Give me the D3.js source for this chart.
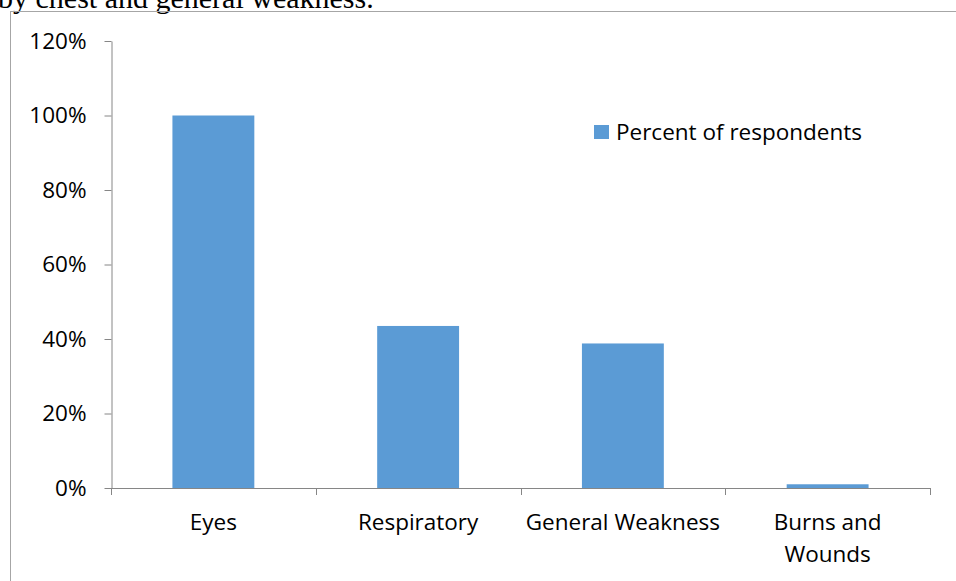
<!DOCTYPE html>
<html lang="en">
<head>
<meta charset="UTF-8">
<title>Percent of respondents</title>
<script src="https://cdn.jsdelivr.net/npm/d3@7"></script>
<style>
  body { margin: 0; background: #fff; }
  text { font-family: "Open Sans", "Liberation Sans", sans-serif; }
</style>
</head>
<body>
<div id="chart"></div>
<script>
// data
const categories = ["Eyes", "Respiratory", "General Weakness", "Burns and Wounds"];
const values = [1.00, 0.435, 0.388, 0.01];
const yTicks = [0, 0.2, 0.4, 0.6, 0.8, 1.0, 1.2];
const seriesName = "Percent of respondents";

let width = 956;
let height = 581;
let margin = { top: 41, right: 26, bottom: 93, left: 111 };

let svg = d3.select("#chart").append("svg")
    .attr("width", width)
    .attr("height", height);

// leftover caption from the document, cut off at the top
svg.append("text")
    .attr("x", -2)
    .attr("y", 8)
    .style("font-family", "'Liberation Serif', serif")
    .style("font-size", "30px")
    .text("by chest and general weakness.");

// chart frame
svg.append("rect")
    .attr("x", 10.5)
    .attr("y", 11.5)
    .attr("width", 960)
    .attr("height", 600)
    .attr("fill", "none")
    .attr("stroke", "#a6a6a6");

let x = d3.scaleBand()
    .domain(categories)
    .range([margin.left, width - margin.right])
    .paddingInner(0.6)
    .paddingOuter(0.3);

let xTickScale = d3.scaleLinear()
    .domain([0, categories.length])
    .range([margin.left, width - margin.right]);

let y = d3.scaleLinear()
    .domain([0, 1.2])
    .range([height - margin.bottom, margin.top]);

// bars
svg.selectAll("rect.bar")
    .data(values)
    .join("rect")
    .attr("class", "bar")
    .attr("x", (d, i) => x(categories[i]))
    .attr("y", d => y(d))
    .attr("width", x.bandwidth())
    .attr("height", d => y(0) - y(d))
    .attr("fill", "#5b9bd5");

// y axis
let yAxis = d3.axisLeft(y)
    .tickValues(yTicks)
    .tickFormat(d3.format(".0%"))
    .tickSize(7)
    .tickSizeOuter(0)
    .tickPadding(18);

let gy = svg.append("g")
    .attr("transform", `translate(${margin.left + 0.5}, 0)`)
    .call(yAxis);
gy.selectAll("line, path").attr("stroke", "#868686");
gy.selectAll("text").style("font-size", "22.5px").attr("fill", "#000");

// x axis line + ticks between categories
let gx = svg.append("g");
gx.append("line")
    .attr("x1", margin.left)
    .attr("x2", width - margin.right)
    .attr("y1", y(0) + 0.5)
    .attr("y2", y(0) + 0.5)
    .attr("stroke", "#868686");
gx.selectAll("line.tick")
    .data(d3.range(categories.length + 1))
    .join("line")
    .attr("class", "tick")
    .attr("x1", d => Math.round(xTickScale(d)) + 0.5)
    .attr("x2", d => Math.round(xTickScale(d)) + 0.5)
    .attr("y1", y(0))
    .attr("y2", y(0) + 7)
    .attr("stroke", "#868686");

// category labels (wrapped like the original)
let labelLines = [["Eyes"], ["Respiratory"], ["General Weakness"], ["Burns and", "Wounds"]];
categories.forEach((c, i) => {
    let t = svg.append("text")
        .attr("x", x(c) + x.bandwidth() / 2)
        .attr("y", y(0) + 42)
        .attr("text-anchor", "middle")
        .style("font-size", "22.5px");
    labelLines[i].forEach((line, j) => {
        t.append("tspan")
            .attr("x", x(c) + x.bandwidth() / 2)
            .attr("dy", j === 0 ? 0 : 32)
            .text(line);
    });
});

// legend
let legend = svg.append("g").attr("transform", "translate(594, 125)");
legend.append("rect")
    .attr("width", 15)
    .attr("height", 14)
    .attr("fill", "#5b9bd5");
legend.append("text")
    .attr("x", 22)
    .attr("y", 15)
    .style("font-size", "22.5px")
    .text(seriesName);
</script>
</body>
</html>
